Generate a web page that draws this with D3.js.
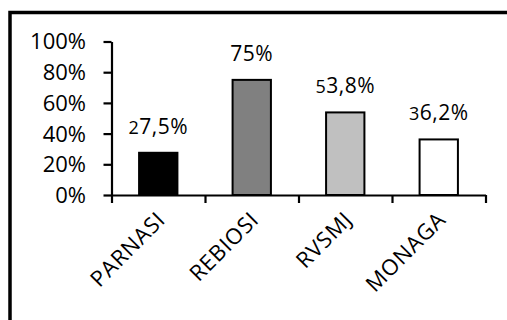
<!DOCTYPE html>
<html>
<head>
<meta charset="utf-8">
<script src="https://cdn.jsdelivr.net/npm/d3@7"></script>
<style>
  html, body { margin: 0; padding: 0; background: #fff; }
  svg { display: block; }
  text { font-family: "Open Sans", "DejaVu Sans", sans-serif; fill: #000; }
</style>
</head>
<body>
<svg id="chart" width="507" height="320"></svg>
<script>
// Share of each group, in percent
const categories = ["PARNASI", "REBIOSI", "RVSMJ", "MONAGA"];
const values = [27.5, 75, 53.8, 36.2];
const barColors = ["#000000", "#808080", "#c0c0c0", "#ffffff"];
const yTicks = [0, 20, 40, 60, 80, 100];

const svg = d3.select("#chart");

// outer frame (runs off the right and bottom edges)
svg.append("rect")
  .attr("x", 10).attr("y", 12.5)
  .attr("width", 520).attr("height", 330)
  .attr("fill", "none").attr("stroke", "#000").attr("stroke-width", 3.5);

const x0 = 111.5, x1 = 485.5;
const x = d3.scaleBand().domain(categories).range([x0, x1])
  .paddingInner(0.59).paddingOuter(0.295);
const y = d3.scaleLinear().domain([0, 100]).range([195, 41.5]);

// bars
svg.append("g").selectAll("rect")
  .data(values)
  .join("rect")
  .attr("x", (d, i) => x(categories[i]))
  .attr("y", d => y(d))
  .attr("width", x.bandwidth())
  .attr("height", d => y(0) - y(d))
  .attr("fill", (d, i) => barColors[i])
  .attr("stroke", "#000")
  .attr("stroke-width", 2);

// value labels (decimal comma)
const fmt = v => String(v).replace(".", ",") + "%";
const labels = svg.append("g").selectAll("text")
  .data(values)
  .join("text")
  .attr("x", (d, i) => x(categories[i]) + x.bandwidth() / 2)
  .attr("y", d => y(d) - 19)
  .attr("text-anchor", "middle")
  .attr("font-size", 21)
  .attr("letter-spacing", 0.5);
labels.each(function(d) {
  const s = fmt(d);
  const t = d3.select(this);
  if (s.includes(",")) {
    t.append("tspan").attr("font-size", 18).text(s[0]);
    t.append("tspan").text(s.slice(1));
  } else {
    t.text(s);
  }
});

// y axis
const yAxis = svg.append("g")
  .attr("transform", `translate(${x0},0)`)
  .call(d3.axisLeft(y).tickValues(yTicks).tickFormat(d => d + "%")
    .tickSize(8).tickSizeOuter(0).tickPadding(17.5));
yAxis.select(".domain").attr("stroke-width", 2.2);
yAxis.selectAll(".tick line").attr("stroke-width", 2.2);
yAxis.selectAll(".tick text")
  .attr("font-size", 22)
  .attr("font-family", "'Open Sans', sans-serif")
  .attr("dy", "0.34em");

// x axis with ticks on the category boundaries
const xb = d3.scaleLinear().domain([0, categories.length]).range([x0, x1]);
const xAxis = svg.append("g")
  .attr("transform", `translate(0,${y(0)})`)
  .call(d3.axisBottom(xb).ticks(categories.length).tickFormat("")
    .tickSize(8).tickSizeOuter(0));
xAxis.select(".domain").attr("stroke-width", 2.2);
xAxis.selectAll(".tick line").attr("stroke-width", 2.2);

// rotated category labels
svg.append("g").selectAll("text")
  .data(categories)
  .join("text")
  .attr("transform", d => `translate(${x(d) + x.bandwidth() / 2 + 8.5},221) rotate(-45)`)
  .attr("text-anchor", "end")
  .attr("font-size", 22)
  .attr("letter-spacing", 0.8)
  .text(d => d);
</script>
</body>
</html>
